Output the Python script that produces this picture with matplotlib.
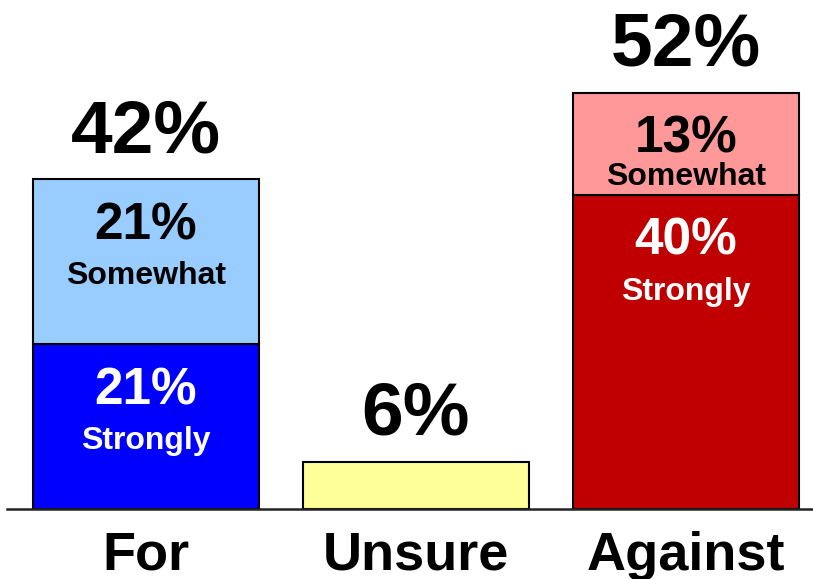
import matplotlib
matplotlib.use("Agg")
import matplotlib.pyplot as plt

categories = ["For", "Unsure", "Against"]
strongly = [21, 6, 40]
somewhat = [21, 0, 13]
totals_text = ["42%", "6%", "52%"]
strongly_text = ["21%", None, "40%"]
somewhat_text = ["21%", None, "13%"]
inner_label_strong = "Strongly"
inner_label_some = "Somewhat"

strong_colors = ["#0000FF", "#FFFF99", "#C00000"]
some_colors = ["#99CCFF", "#FFFF99", "#FF9999"]
strong_text_colors = ["white", "black", "white"]

plt.rcParams['font.family'] = ['Liberation Sans', 'DejaVu Sans']
plt.rcParams['font.weight'] = 'bold'

DPI = 100
W, H = 813, 579
fig = plt.figure(figsize=(W / DPI, H / DPI), dpi=DPI)
left_px, base_px = 7, 70
ax = fig.add_axes([left_px / W, base_px / H, 1 - left_px / W, 1 - base_px / H])

px_per_unit_x = 270.0
x_left = -139 / px_per_unit_x
ax.set_xlim(x_left, x_left + (W - left_px) / px_per_unit_x)
ax.set_ylim(0, (H - base_px) / 7.857)

PT = 72.0 / DPI  # points per pixel
xs = list(range(len(categories)))
bw = 226 / px_per_unit_x
ax.bar(xs, strongly, width=bw, color=strong_colors, edgecolor="black", linewidth=1.5, zorder=2)
seg_some = [(i, s, v) for i, (s, v) in enumerate(zip(strongly, somewhat)) if v > 0]
ax.bar([i for i, _, _ in seg_some], [v for _, _, v in seg_some],
       bottom=[s for _, s, _ in seg_some], width=bw,
       color=[some_colors[i] for i, _, _ in seg_some], edgecolor="black", linewidth=1.5, zorder=2)

px_per_unit_y = 7.857
for i in xs:
    top = strongly[i] + somewhat[i]
    ax.annotate(totals_text[i], xy=(i, top), xytext=(0, 27 * PT), textcoords="offset points",
                ha="center", va="baseline", fontsize=54, fontweight="bold", color="black")
    segs = []
    if strongly_text[i]:
        segs.append((strongly[i], strongly[i], strongly_text[i], inner_label_strong, strong_text_colors[i]))
    if somewhat_text[i]:
        segs.append((top, somewhat[i], somewhat_text[i], inner_label_some, "black"))
    for seg_top, h, pct, lab, col in segs:
        seg_h_px = h * px_per_unit_y
        ax.annotate(pct, xy=(i, seg_top), xytext=(0, -60 * PT), textcoords="offset points",
                    ha="center", va="baseline", fontsize=37, fontweight="bold", color=col, zorder=3)
        off = min(105, seg_h_px - 10)
        ax.annotate(lab, xy=(i, seg_top), xytext=(0, -off * PT), textcoords="offset points",
                    ha="center", va="baseline", fontsize=23, fontweight="bold", color=col, zorder=3)
    ax.annotate(categories[i], xy=(i, 0), xytext=(0, -61 * PT), textcoords="offset points",
                ha="center", va="baseline", fontsize=39, fontweight="bold", color="black",
                annotation_clip=False)

for s in ["top", "right", "left"]:
    ax.spines[s].set_visible(False)
ax.spines["bottom"].set_linewidth(1.8)
ax.spines["bottom"].set_color("#222222")
ax.set_xticks([])
ax.set_yticks([])
ax.patch.set_alpha(0)

fig.savefig("out.png", dpi=DPI)
